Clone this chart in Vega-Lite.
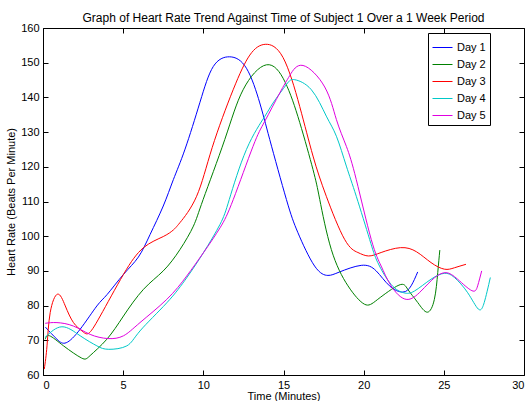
{
  "$schema": "https://vega.github.io/schema/vega-lite/v6.json",
  "width": 481,
  "height": 347,
  "autosize": {"type": "none"},
  "padding": {"left": 43, "top": 28, "right": 6, "bottom": 26},
  "background": "white",
  "title": {"text": "Graph of Heart Rate Trend Against Time of Subject 1 Over a 1 Week Period", "font": "Liberation Sans", "fontSize": 12, "fontWeight": "normal", "color": "black", "anchor": "middle", "offset": -3},
  "config": {
    "view": {"stroke": "black", "strokeWidth": 1},
    "axis": {"domain": false, "grid": false, "tickColor": "black", "tickSize": -5, "labelFont": "Liberation Sans", "labelFontSize": 11, "labelColor": "black", "titleFont": "Liberation Sans", "titleFontSize": 11, "titleFontWeight": "normal", "titleColor": "black", "labelPadding": 9},
    "legend": {"orient": "none", "legendX": 385, "legendY": 5, "strokeColor": "black", "fillColor": "white", "padding": 4, "symbolType": "stroke", "symbolSize": 400, "symbolStrokeWidth": 1, "labelFont": "Liberation Sans", "labelFontSize": 11, "labelColor": "black", "rowPadding": 1, "title": null, "cornerRadius": 0}
  },
  "datasets": {
    "hr": [
      {"day": "Day 1", "t": 0.15, "hr": 73.8}, {"day": "Day 1", "t": 0.87, "hr": 70.3}, {"day": "Day 1", "t": 1.45, "hr": 69.3}, {"day": "Day 1", "t": 2.32, "hr": 73.2}, {"day": "Day 1", "t": 3.36, "hr": 79.9}, {"day": "Day 1", "t": 4.0, "hr": 83.2}, {"day": "Day 1", "t": 5.02, "hr": 89.0}, {"day": "Day 1", "t": 5.95, "hr": 94.0}, {"day": "Day 1", "t": 6.68, "hr": 100.5}, {"day": "Day 1", "t": 7.5, "hr": 108.7}, {"day": "Day 1", "t": 8.13, "hr": 116.3}, {"day": "Day 1", "t": 8.86, "hr": 125.1}, {"day": "Day 1", "t": 9.79, "hr": 138.6}, {"day": "Day 1", "t": 10.62, "hr": 148.9}, {"day": "Day 1", "t": 11.64, "hr": 151.7}, {"day": "Day 1", "t": 12.69, "hr": 148.4}, {"day": "Day 1", "t": 13.52, "hr": 138.4}, {"day": "Day 1", "t": 14.14, "hr": 127.9}, {"day": "Day 1", "t": 15.18, "hr": 110.6}, {"day": "Day 1", "t": 15.9, "hr": 101.0}, {"day": "Day 1", "t": 16.94, "hr": 91.4}, {"day": "Day 1", "t": 17.77, "hr": 88.7}, {"day": "Day 1", "t": 18.5, "hr": 89.7}, {"day": "Day 1", "t": 19.85, "hr": 91.6}, {"day": "Day 1", "t": 20.78, "hr": 90.0}, {"day": "Day 1", "t": 21.61, "hr": 85.7}, {"day": "Day 1", "t": 22.44, "hr": 83.9}, {"day": "Day 1", "t": 22.96, "hr": 85.7}, {"day": "Day 1", "t": 23.37, "hr": 89.7},
      {"day": "Day 2", "t": 0.14, "hr": 70.3}, {"day": "Day 2", "t": 0.41, "hr": 71.3}, {"day": "Day 2", "t": 1.28, "hr": 68.4}, {"day": "Day 2", "t": 2.4, "hr": 64.9}, {"day": "Day 2", "t": 2.94, "hr": 65.6}, {"day": "Day 2", "t": 3.98, "hr": 70.3}, {"day": "Day 2", "t": 5.02, "hr": 77.0}, {"day": "Day 2", "t": 6.27, "hr": 84.7}, {"day": "Day 2", "t": 7.5, "hr": 90.0}, {"day": "Day 2", "t": 8.55, "hr": 96.2}, {"day": "Day 2", "t": 9.38, "hr": 102.9}, {"day": "Day 2", "t": 9.99, "hr": 110.6}, {"day": "Day 2", "t": 11.34, "hr": 127.9}, {"day": "Day 2", "t": 12.48, "hr": 142.2}, {"day": "Day 2", "t": 13.94, "hr": 149.4}, {"day": "Day 2", "t": 15.1, "hr": 144.4}, {"day": "Day 2", "t": 16.01, "hr": 132.8}, {"day": "Day 2", "t": 16.84, "hr": 119.2}, {"day": "Day 2", "t": 17.26, "hr": 110.6}, {"day": "Day 2", "t": 17.98, "hr": 96.2}, {"day": "Day 2", "t": 19.02, "hr": 85.7}, {"day": "Day 2", "t": 20.05, "hr": 80.4}, {"day": "Day 2", "t": 20.88, "hr": 81.8}, {"day": "Day 2", "t": 22.2, "hr": 85.9}, {"day": "Day 2", "t": 22.75, "hr": 84.7}, {"day": "Day 2", "t": 23.37, "hr": 80.9}, {"day": "Day 2", "t": 23.97, "hr": 78.1}, {"day": "Day 2", "t": 24.41, "hr": 81.8}, {"day": "Day 2", "t": 24.62, "hr": 89.5}, {"day": "Day 2", "t": 24.75, "hr": 96.0},
      {"day": "Day 3", "t": 0.08, "hr": 61.7}, {"day": "Day 3", "t": 0.25, "hr": 68.4}, {"day": "Day 3", "t": 0.45, "hr": 78.0}, {"day": "Day 3", "t": 0.91, "hr": 83.3}, {"day": "Day 3", "t": 1.39, "hr": 79.9}, {"day": "Day 3", "t": 1.9, "hr": 75.1}, {"day": "Day 3", "t": 2.43, "hr": 72.7}, {"day": "Day 3", "t": 2.84, "hr": 72.0}, {"day": "Day 3", "t": 3.57, "hr": 77.0}, {"day": "Day 3", "t": 5.02, "hr": 89.0}, {"day": "Day 3", "t": 6.27, "hr": 96.7}, {"day": "Day 3", "t": 7.5, "hr": 99.9}, {"day": "Day 3", "t": 8.13, "hr": 101.8}, {"day": "Day 3", "t": 8.54, "hr": 103.9}, {"day": "Day 3", "t": 9.58, "hr": 111.5}, {"day": "Day 3", "t": 10.55, "hr": 125.5}, {"day": "Day 3", "t": 11.86, "hr": 142.2}, {"day": "Day 3", "t": 12.9, "hr": 152.2}, {"day": "Day 3", "t": 13.86, "hr": 155.3}, {"day": "Day 3", "t": 14.97, "hr": 151.5}, {"day": "Day 3", "t": 16.01, "hr": 137.4}, {"day": "Day 3", "t": 16.84, "hr": 123.1}, {"day": "Day 3", "t": 17.67, "hr": 111.5}, {"day": "Day 3", "t": 18.81, "hr": 99.1}, {"day": "Day 3", "t": 19.64, "hr": 95.3}, {"day": "Day 3", "t": 20.3, "hr": 94.3}, {"day": "Day 3", "t": 21.09, "hr": 95.3}, {"day": "Day 3", "t": 22.3, "hr": 96.7}, {"day": "Day 3", "t": 23.3, "hr": 95.5}, {"day": "Day 3", "t": 24.2, "hr": 92.4}, {"day": "Day 3", "t": 25.03, "hr": 90.5}, {"day": "Day 3", "t": 25.66, "hr": 90.9}, {"day": "Day 3", "t": 26.38, "hr": 91.9},
      {"day": "Day 4", "t": 0.12, "hr": 70.8}, {"day": "Day 4", "t": 1.18, "hr": 73.9}, {"day": "Day 4", "t": 2.32, "hr": 71.3}, {"day": "Day 4", "t": 3.36, "hr": 68.4}, {"day": "Day 4", "t": 4.1, "hr": 67.4}, {"day": "Day 4", "t": 5.23, "hr": 68.4}, {"day": "Day 4", "t": 6.05, "hr": 72.7}, {"day": "Day 4", "t": 7.72, "hr": 80.8}, {"day": "Day 4", "t": 8.96, "hr": 88.0}, {"day": "Day 4", "t": 10.0, "hr": 95.2}, {"day": "Day 4", "t": 11.04, "hr": 103.4}, {"day": "Day 4", "t": 11.62, "hr": 110.6}, {"day": "Day 4", "t": 12.69, "hr": 125.0}, {"day": "Day 4", "t": 13.83, "hr": 134.5}, {"day": "Day 4", "t": 14.35, "hr": 138.4}, {"day": "Day 4", "t": 15.18, "hr": 143.7}, {"day": "Day 4", "t": 15.7, "hr": 145.1}, {"day": "Day 4", "t": 16.74, "hr": 142.2}, {"day": "Day 4", "t": 17.67, "hr": 134.6}, {"day": "Day 4", "t": 18.3, "hr": 128.8}, {"day": "Day 4", "t": 18.92, "hr": 120.2}, {"day": "Day 4", "t": 19.54, "hr": 111.5}, {"day": "Day 4", "t": 20.37, "hr": 99.1}, {"day": "Day 4", "t": 20.88, "hr": 92.4}, {"day": "Day 4", "t": 21.71, "hr": 86.1}, {"day": "Day 4", "t": 22.5, "hr": 83.7}, {"day": "Day 4", "t": 23.17, "hr": 84.2}, {"day": "Day 4", "t": 24.2, "hr": 87.6}, {"day": "Day 4", "t": 25.03, "hr": 89.3}, {"day": "Day 4", "t": 25.66, "hr": 88.1}, {"day": "Day 4", "t": 26.49, "hr": 83.7}, {"day": "Day 4", "t": 27.15, "hr": 79.0}, {"day": "Day 4", "t": 27.52, "hr": 80.9}, {"day": "Day 4", "t": 27.9, "hr": 88.1},
      {"day": "Day 5", "t": 0.14, "hr": 74.9}, {"day": "Day 5", "t": 0.87, "hr": 75.1}, {"day": "Day 5", "t": 1.9, "hr": 74.1}, {"day": "Day 5", "t": 2.94, "hr": 71.7}, {"day": "Day 5", "t": 4.05, "hr": 70.5}, {"day": "Day 5", "t": 5.02, "hr": 71.3}, {"day": "Day 5", "t": 6.05, "hr": 75.1}, {"day": "Day 5", "t": 7.72, "hr": 81.8}, {"day": "Day 5", "t": 8.96, "hr": 88.5}, {"day": "Day 5", "t": 10.0, "hr": 95.2}, {"day": "Day 5", "t": 11.04, "hr": 102.4}, {"day": "Day 5", "t": 11.87, "hr": 110.6}, {"day": "Day 5", "t": 13.1, "hr": 125.9}, {"day": "Day 5", "t": 13.83, "hr": 133.1}, {"day": "Day 5", "t": 14.77, "hr": 141.3}, {"day": "Day 5", "t": 15.39, "hr": 146.3}, {"day": "Day 5", "t": 16.22, "hr": 149.2}, {"day": "Day 5", "t": 17.57, "hr": 143.0}, {"day": "Day 5", "t": 18.3, "hr": 133.6}, {"day": "Day 5", "t": 18.92, "hr": 125.9}, {"day": "Day 5", "t": 19.54, "hr": 116.3}, {"day": "Day 5", "t": 20.47, "hr": 99.1}, {"day": "Day 5", "t": 21.09, "hr": 91.4}, {"day": "Day 5", "t": 21.71, "hr": 85.7}, {"day": "Day 5", "t": 22.65, "hr": 81.8}, {"day": "Day 5", "t": 23.58, "hr": 84.2}, {"day": "Day 5", "t": 24.41, "hr": 88.0}, {"day": "Day 5", "t": 25.14, "hr": 89.5}, {"day": "Day 5", "t": 25.86, "hr": 87.6}, {"day": "Day 5", "t": 26.75, "hr": 84.3}, {"day": "Day 5", "t": 27.11, "hr": 85.7}, {"day": "Day 5", "t": 27.36, "hr": 90.0}
    ]
  },
  "data": {"name": "hr"},
  "layer": [
    {
      "mark": {"type": "line", "interpolate": "natural", "strokeWidth": 1},
      "encoding": {
        "x": {"field": "t", "type": "quantitative", "scale": {"domain": [0, 30], "nice": false}, "axis": {"title": "Time (Minutes)", "values": [0, 5, 10, 15, 20, 25, 30], "titlePadding": 0}},
        "y": {"field": "hr", "type": "quantitative", "scale": {"domain": [60, 160], "nice": false, "zero": false}, "axis": {"title": "Heart Rate (Beats Per Minute)", "values": [60, 70, 80, 90, 100, 110, 120, 130, 140, 150, 160], "titlePadding": 4}},
        "color": {"field": "day", "type": "nominal", "scale": {"domain": ["Day 1", "Day 2", "Day 3", "Day 4", "Day 5"], "range": ["#0000ff", "#008000", "#ff0000", "#00c8c8", "#e000e0"]}}
      }
    },
    {
      "mark": {"type": "point", "opacity": 0},
      "encoding": {
        "x": {"field": "t", "type": "quantitative", "axis": {"orient": "top", "labels": false, "title": null, "values": [0, 5, 10, 15, 20, 25, 30]}},
        "y": {"field": "hr", "type": "quantitative", "axis": {"orient": "right", "labels": false, "title": null, "values": [60, 70, 80, 90, 100, 110, 120, 130, 140, 150, 160]}}
      }
    }
  ],
  "resolve": {"axis": {"x": "independent", "y": "independent"}}
}
